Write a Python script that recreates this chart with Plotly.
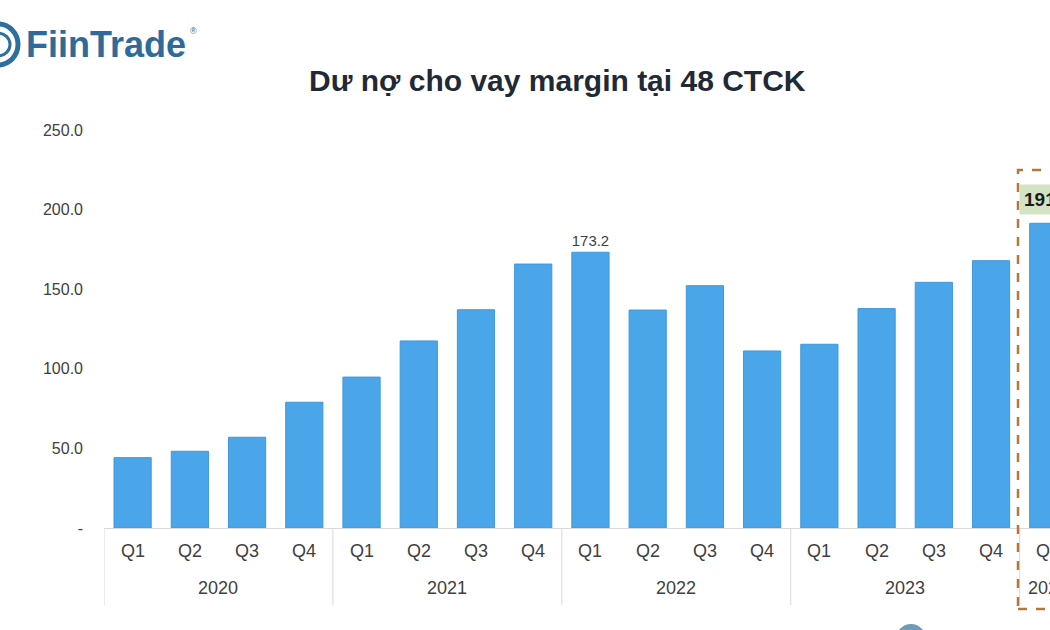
import plotly.graph_objects as go

years = ["2020"] * 4 + ["2021"] * 4 + ["2022"] * 4 + ["2023"] * 4 + ["2024"]
quarters = ["Q1", "Q2", "Q3", "Q4"] * 4 + ["Q1"]
values = [44.2, 48.2, 57.0, 79.0, 94.8, 117.5, 137.1, 165.8, 173.2, 136.9, 152.2,
          111.2, 115.4, 137.8, 154.3, 167.9, 191.4]
labels = [""] * 8 + ["173.2"] + [""] * 8
year_groups = ["2020", "2021", "2022", "2023", "2024"]
ytick_vals = [0, 50, 100, 150, 200, 250]
ytick_text = ["-", "50.0", "100.0", "150.0", "200.0", "250.0"]

cats = [f"{y} {q}" for y, q in zip(years, quarters)]

L, T, PW, PH = 104, 130, 946, 398


def py(pix):
    # pixel row -> paper y
    return 1 - (pix - T) / PH


def px(pix):
    return (pix - L) / PW


fig = go.Figure()
fig.add_trace(go.Bar(
    x=cats, y=values, width=0.65,
    marker=dict(color="#4aa6e9", line=dict(color="#3d98dc", width=1)),
    text=labels, textposition="outside", cliponaxis=False,
    textfont=dict(family="Liberation Sans, Arial", size=17, color="#404040"),
))

fig.update_layout(
    width=1050, height=630,
    margin=dict(l=L, r=0, t=T, b=630 - T - PH, autoexpand=False),
    paper_bgcolor="white", plot_bgcolor="white",
    showlegend=False,
    font=dict(family="Liberation Sans, Arial", color="#404040"),
)
fig.update_yaxes(range=[0, 250], tickvals=ytick_vals, ticktext=ytick_text,
                 showgrid=False, zeroline=False, showline=False,
                 ticklabelstandoff=20, automargin=False,
                 tickfont=dict(size=16, color="#404040"))
fig.update_xaxes(type="category", range=[-0.5, 16.03], showgrid=False, showline=True,
                 linecolor="#d9d9d9", linewidth=1, showticklabels=False,
                 automargin=False)

# Category labels (quarters and years) and group dividers
for i, q in enumerate(quarters):
    fig.add_annotation(text=q, x=i, xref="x", y=py(551), yref="paper",
                       showarrow=False, yanchor="middle",
                       font=dict(size=18, color="#404040"))
starts = [years.index(g) for g in year_groups]
for g, s in zip(year_groups, starts):
    e = len(years) - 1 - years[::-1].index(g)
    fig.add_annotation(text=g, x=(s + e) / 2, xref="x", y=py(588), yref="paper",
                       showarrow=False, yanchor="middle",
                       font=dict(size=18, color="#404040"))
    fig.add_shape(type="line", xref="x", yref="paper", x0=s - 0.5, x1=s - 0.5,
                  y0=py(528), y1=py(605), line=dict(color="#d9d9d9", width=1))

# Title
fig.add_annotation(text="<b>Dư nợ cho vay margin tại 48 CTCK</b>", xref="paper", yref="paper",
                   x=px(557), y=py(80), xanchor="center", yanchor="middle", showarrow=False,
                   font=dict(size=30, color="#1f2a36", family="Liberation Sans, Arial"))

# Highlight box for latest quarter
fig.add_shape(type="rect", xref="paper", yref="paper",
              x0=px(1018), x1=px(1080), y0=py(609), y1=py(170),
              line=dict(color="#b5773a", width=2.5, dash="dash"), fillcolor="rgba(0,0,0,0)")
fig.add_annotation(text="<b>191.4</b>", x=16, y=values[16], xref="x", yref="y",
                   yshift=24, showarrow=False, bgcolor="#d5e3c5",
                   borderpad=4, font=dict(size=19, color="#1a1a1a"))

# Logo
fig.add_shape(type="circle", xref="paper", yref="paper",
              x0=px(-22), x1=px(18), y0=py(65), y1=py(24),
              line=dict(color="#2d6f9e", width=5), fillcolor="white")
fig.add_shape(type="circle", xref="paper", yref="paper",
              x0=px(-14), x1=px(10), y0=py(56), y1=py(33),
              line=dict(color="#2d6f9e", width=3), fillcolor="white")
fig.add_annotation(text="<b>FiinTrade</b>", xref="paper", yref="paper",
                   x=px(24), y=py(44), xanchor="left", yanchor="middle",
                   showarrow=False, font=dict(size=36, color="#2f6b9a", family="Liberation Sans, Arial"))
fig.add_annotation(text="®", xref="paper", yref="paper",
                   x=px(188), y=py(31), xanchor="left", yanchor="middle",
                   showarrow=False, font=dict(size=9, color="#2f6b9a"))

# Partial footer logo
fig.add_shape(type="circle", xref="paper", yref="paper",
              x0=px(895), x1=px(927), y0=py(660), y1=py(624),
              line=dict(color="#6d9cb8", width=0), fillcolor="#6d9cb8")

fig.write_html("out.html")
